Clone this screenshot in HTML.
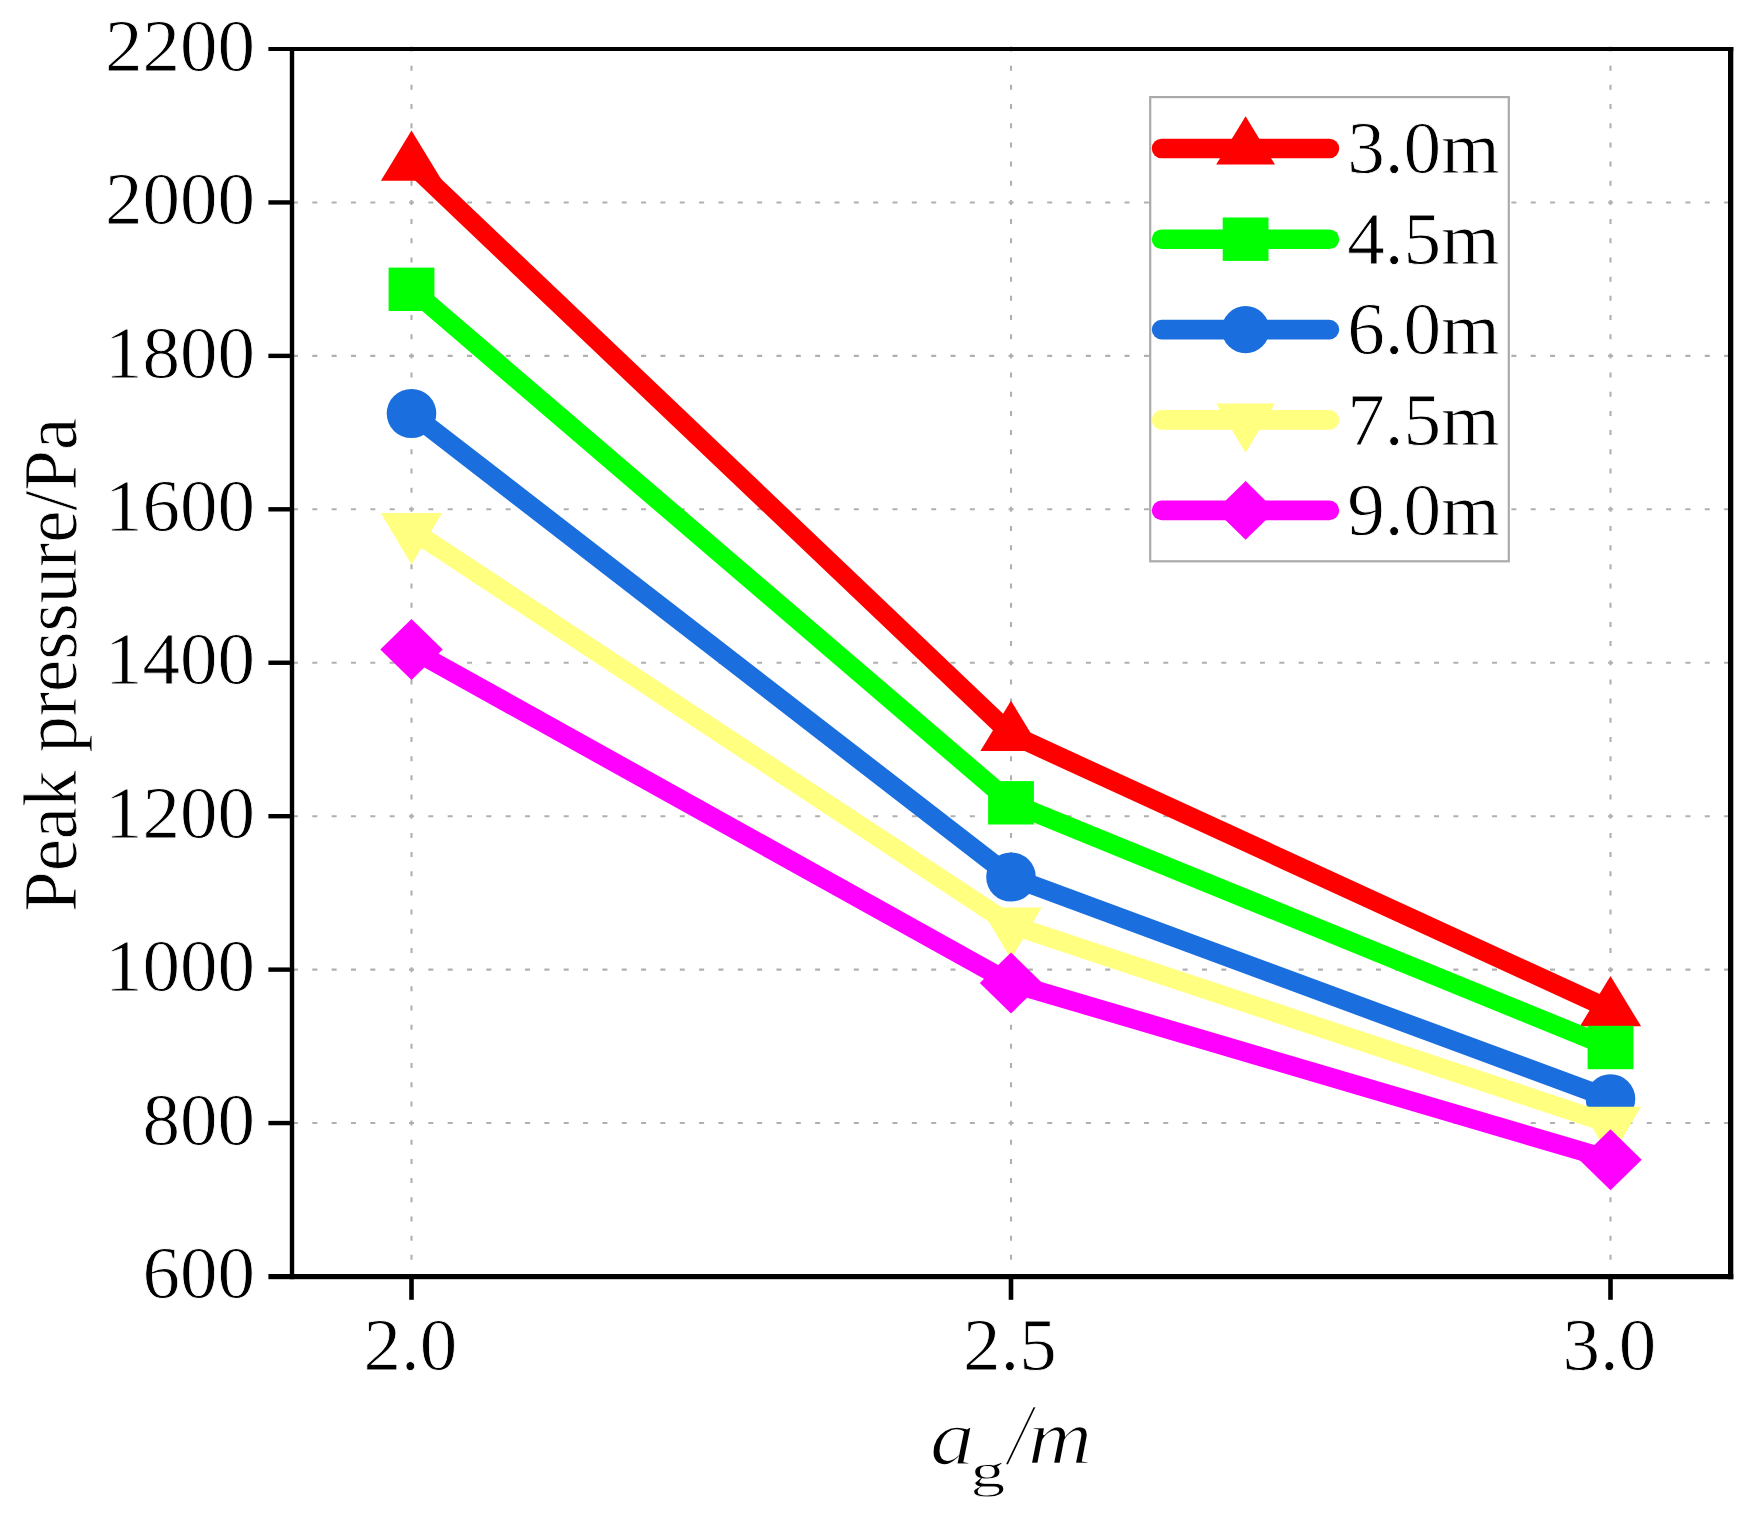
<!DOCTYPE html>
<html lang="en"><head><meta charset="utf-8"><title>Peak pressure chart</title>
<style>
html,body{margin:0;padding:0;background:#fff;}
body{width:1753px;height:1525px;overflow:hidden;}
svg{display:block;}
text{font-family:"Liberation Serif","Times New Roman",serif;fill:#000;stroke:#fff;stroke-width:0.8px;}
.xl text{stroke-width:1.5px;}
.xl text.sl{stroke-width:2.4px;}
</style></head><body>
<svg width="1753" height="1525" viewBox="0 0 1753 1525">
<rect width="1753" height="1525" fill="#fff"/>

<g stroke="#B0B0B0" stroke-width="2.1" fill="none">
<line x1="273.62" y1="202.44" x2="1729" y2="202.44" stroke-dasharray="5 14.34"/>
<line x1="273.62" y1="355.88" x2="1729" y2="355.88" stroke-dasharray="5 14.34"/>
<line x1="273.62" y1="509.31" x2="1729" y2="509.31" stroke-dasharray="5 14.34"/>
<line x1="273.62" y1="662.75" x2="1729" y2="662.75" stroke-dasharray="5 14.34"/>
<line x1="273.62" y1="816.19" x2="1729" y2="816.19" stroke-dasharray="5 14.34"/>
<line x1="273.62" y1="969.62" x2="1729" y2="969.62" stroke-dasharray="5 14.34"/>
<line x1="273.62" y1="1123.06" x2="1729" y2="1123.06" stroke-dasharray="5 14.34"/>
<line x1="411.50" y1="46.50" x2="411.50" y2="1275" stroke-dasharray="5 14.18"/>
<line x1="1011.00" y1="46.50" x2="1011.00" y2="1275" stroke-dasharray="5 14.18"/>
<line x1="1610.50" y1="46.50" x2="1610.50" y2="1275" stroke-dasharray="5 14.18"/>
</g>
<g fill="#000">
<rect x="268.4" y="47" width="1464.9" height="4"/>
<rect x="268.4" y="1274" width="1464.9" height="5.2"/>
<rect x="289.8" y="47" width="4.4" height="1232.2"/>
<rect x="1728" y="47" width="5.3" height="1232.2"/>
<rect x="268.4" y="200.24" width="22" height="4.4"/>
<rect x="268.4" y="353.68" width="22" height="4.4"/>
<rect x="268.4" y="507.11" width="22" height="4.4"/>
<rect x="268.4" y="660.55" width="22" height="4.4"/>
<rect x="268.4" y="813.99" width="22" height="4.4"/>
<rect x="268.4" y="967.42" width="22" height="4.4"/>
<rect x="268.4" y="1120.86" width="22" height="4.4"/>
<rect x="409.20" y="1276" width="4.6" height="23.8"/>
<rect x="1008.70" y="1276" width="4.6" height="23.8"/>
<rect x="1608.20" y="1276" width="4.6" height="23.8"/>
</g>
<text transform="translate(255.0,1298.1) scale(1.027,1)" font-size="73px" text-anchor="end">600</text>
<text transform="translate(255.0,1144.7) scale(1.027,1)" font-size="73px" text-anchor="end">800</text>
<text transform="translate(255.0,991.2) scale(1.027,1)" font-size="73px" text-anchor="end">1000</text>
<text transform="translate(255.0,837.8) scale(1.027,1)" font-size="73px" text-anchor="end">1200</text>
<text transform="translate(255.0,684.4) scale(1.027,1)" font-size="73px" text-anchor="end">1400</text>
<text transform="translate(255.0,530.9) scale(1.027,1)" font-size="73px" text-anchor="end">1600</text>
<text transform="translate(255.0,377.5) scale(1.027,1)" font-size="73px" text-anchor="end">1800</text>
<text transform="translate(255.0,224.0) scale(1.027,1)" font-size="73px" text-anchor="end">2000</text>
<text transform="translate(255.0,70.6) scale(1.027,1)" font-size="73px" text-anchor="end">2200</text>
<text transform="translate(410.3,1370.0) scale(1.027,1)" font-size="73px" text-anchor="middle">2.0</text>
<text transform="translate(1009.8,1370.0) scale(1.027,1)" font-size="73px" text-anchor="middle">2.5</text>
<text transform="translate(1609.3,1370.0) scale(1.027,1)" font-size="73px" text-anchor="middle">3.0</text>
<text transform="translate(76.1,664.8) rotate(-90) scale(1,1.05)" font-size="72.6px" text-anchor="middle">Peak pressure/Pa</text>
<g class="xl" font-style="italic">
<text transform="translate(930.1,1463.7) scale(1.143,1)" font-size="78px">a</text>
<text transform="translate(1007.9,1463.6) scale(0.94,1)" font-size="88px" class="sl">/</text>
<text transform="translate(1027.7,1463.7) scale(1.145,1)" font-size="78px">m</text>
</g>
<text transform="translate(970.4,1486.8) scale(1.45,1)" font-size="48px">g</text>
<polyline points="411.5,163.9 1011.0,734.3 1610.5,1009.5" fill="none" stroke="#FF0000" stroke-width="19.1" stroke-linejoin="round"/>
<polygon points="411.5,130.4 380.9,180.7 442.1,180.7" fill="#FF0000"/>
<polygon points="1011.0,700.8 980.4,751.1 1041.6,751.1" fill="#FF0000"/>
<polygon points="1610.5,976.0 1579.9,1026.3 1641.1,1026.3" fill="#FF0000"/>
<polyline points="411.5,289.3 1011.0,802.8 1610.5,1047.5" fill="none" stroke="#00FF00" stroke-width="19.1" stroke-linejoin="round"/>
<rect x="388.6" y="267.6" width="45.8" height="43.4" fill="#00FF00"/>
<rect x="988.1" y="781.1" width="45.8" height="43.4" fill="#00FF00"/>
<rect x="1587.6" y="1025.8" width="45.8" height="43.4" fill="#00FF00"/>
<polyline points="411.5,413.5 1011.0,877.0 1610.5,1098.8" fill="none" stroke="#1A6EDE" stroke-width="19.1" stroke-linejoin="round"/>
<ellipse cx="411.5" cy="413.5" rx="24.8" ry="24.6" fill="#1A6EDE"/>
<ellipse cx="1011.0" cy="877.0" rx="24.8" ry="24.6" fill="#1A6EDE"/>
<ellipse cx="1610.5" cy="1098.8" rx="24.8" ry="24.6" fill="#1A6EDE"/>
<polyline points="411.5,530.1 1011.0,924.8 1610.5,1124.0" fill="none" stroke="#FFFF80" stroke-width="19.1" stroke-linejoin="round"/>
<polygon points="411.5,564.4 380.9,512.9 442.1,512.9" fill="#FFFF80"/>
<polygon points="1011.0,959.1 980.4,907.6 1041.6,907.6" fill="#FFFF80"/>
<polygon points="1610.5,1158.3 1579.9,1106.8 1641.1,1106.8" fill="#FFFF80"/>
<polyline points="411.5,649.5 1011.0,983.0 1610.5,1159.7" fill="none" stroke="#FF00FF" stroke-width="19.1" stroke-linejoin="round"/>
<polygon points="411.5,619.0 442.7,649.5 411.5,680.0 380.3,649.5" fill="#FF00FF"/>
<polygon points="1011.0,952.5 1042.2,983.0 1011.0,1013.5 979.8,983.0" fill="#FF00FF"/>
<polygon points="1610.5,1129.2 1641.7,1159.7 1610.5,1190.2 1579.3,1159.7" fill="#FF00FF"/>
<rect x="1150.2" y="97.1" width="358.6" height="464.2" fill="#fff" stroke="#AAAAAA" stroke-width="2.2"/>
<line x1="1161.6" y1="148.5" x2="1329.4" y2="148.5" stroke="#FF0000" stroke-width="19.6" stroke-linecap="round"/>
<polygon points="1245.6,116.3 1216.2,164.6 1275.0,164.6" fill="#FF0000"/>
<text transform="translate(1347.2,173.3) scale(1.03,1)" font-size="73px" text-anchor="start">3.0m</text>
<line x1="1161.6" y1="239.2" x2="1329.4" y2="239.2" stroke="#00FF00" stroke-width="19.6" stroke-linecap="round"/>
<rect x="1222.7" y="217.5" width="45.8" height="43.4" fill="#00FF00"/>
<text transform="translate(1347.2,264.0) scale(1.03,1)" font-size="73px" text-anchor="start">4.5m</text>
<line x1="1161.6" y1="329.6" x2="1329.4" y2="329.6" stroke="#1A6EDE" stroke-width="19.6" stroke-linecap="round"/>
<ellipse cx="1245.6" cy="329.6" rx="23.8" ry="23.6" fill="#1A6EDE"/>
<text transform="translate(1347.2,354.4) scale(1.03,1)" font-size="73px" text-anchor="start">6.0m</text>
<line x1="1161.6" y1="419.9" x2="1329.4" y2="419.9" stroke="#FFFF80" stroke-width="19.6" stroke-linecap="round"/>
<polygon points="1245.6,452.8 1216.2,403.4 1275.0,403.4" fill="#FFFF80"/>
<text transform="translate(1347.2,444.7) scale(1.03,1)" font-size="73px" text-anchor="start">7.5m</text>
<line x1="1161.6" y1="510.4" x2="1329.4" y2="510.4" stroke="#FF00FF" stroke-width="19.6" stroke-linecap="round"/>
<polygon points="1245.6,481.1 1275.6,510.4 1245.6,539.7 1215.6,510.4" fill="#FF00FF"/>
<text transform="translate(1347.2,535.2) scale(1.03,1)" font-size="73px" text-anchor="start">9.0m</text>
</svg></body></html>
